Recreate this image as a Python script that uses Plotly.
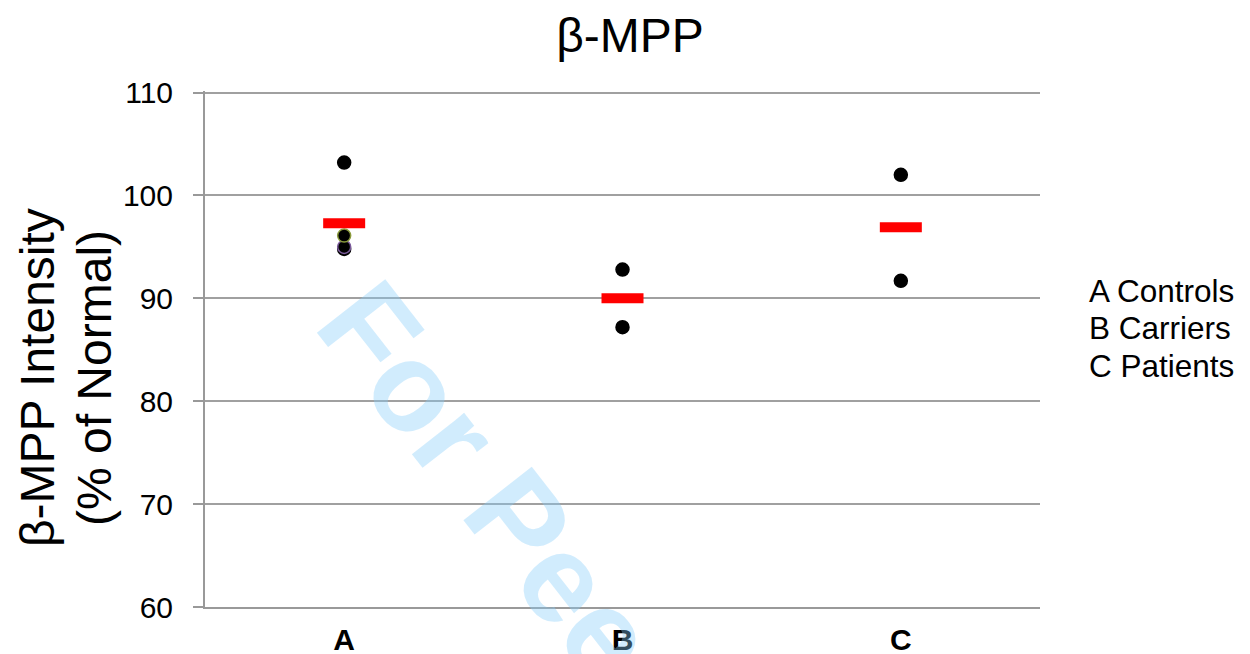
import plotly.graph_objects as go

categories = ["A", "B", "C"]
point_groups = ["A", "A", "A", "A", "B", "B", "C", "C"]
point_values = [103.2, 96.1, 95.0, 94.8, 92.8, 87.2, 102.0, 91.7]
point_outline = ["black", "#8a9a3c", "#7a5a9a", "black", "black", "black", "black", "black"]
mean_values = [97.3, 90.0, 96.9]
legend_labels = ["A Controls", "B Carriers", "C Patients"]
y_ticks = [60, 70, 80, 90, 100, 110]
title_text = "β-MPP"
y_title_lines = ["β-MPP Intensity", "(% of Normal)"]
watermark = "For Peer Review"

FONT = "Liberation Sans, Arial, sans-serif"

OFF = 8  # page body margin offset
W, H = 1242, 646
L, T, B = 205 - OFF, 83, 47
PW = 835
R = W - L - PW
PH = H - T - B
PB = OFF + H - B  # screen y of plot bottom


def px(sx):
    return (sx - 205) / PW


def py(sy):
    return (PB - sy) / PH


fig = go.Figure()
order = [0, 3, 2, 1, 4, 5, 6, 7]
fig.add_trace(go.Scatter(
    x=[point_groups[i] for i in order],
    y=[point_values[i] for i in order],
    mode="markers",
    marker=dict(color="black", size=13,
                line=dict(color=[point_outline[i] for i in order], width=1.5)),
    showlegend=False, hoverinfo="skip",
))
fig.add_trace(go.Scatter(
    x=categories, y=mean_values, mode="markers",
    marker=dict(symbol="line-ew", size=30, color="red",
                line=dict(color="red", width=10)),
    showlegend=False, hoverinfo="skip",
))

fig.update_layout(
    width=W, height=H,
    margin=dict(l=L, r=R, t=T, b=B, autoexpand=False),
    plot_bgcolor="white", paper_bgcolor="white",
    font=dict(family=FONT, color="black"),
    title=dict(text=title_text, x=(630 - OFF) / W, xref="container", xanchor="center",
               y=1 - (35 - OFF) / H, yref="container", yanchor="middle",
               font=dict(size=48, family=FONT, color="black")),
    xaxis=dict(type="category", categoryorder="array", categoryarray=categories,
               range=[-0.5, 2.5], showgrid=False, showline=True, automargin=False,
               linecolor="#999999", linewidth=2, ticks="", zeroline=False,
               tickfont=dict(size=30, family=FONT, color="black", weight="bold"),
               ticklabelstandoff=5),
    yaxis=dict(range=[60, 110.15], tickvals=y_ticks, showgrid=True, automargin=False,
               gridcolor="#a0a0a0", gridwidth=2, showline=True,
               linecolor="#999999", linewidth=2, ticks="outside", ticklen=10,
               tickcolor="#999999", tickwidth=2, zeroline=False,
               tickfont=dict(size=30, family=FONT, color="black"),
               ticklabelstandoff=14),
)

# y-axis title, two lines
for line, sx in zip(y_title_lines, [37, 94]):
    fig.add_annotation(text=line, xref="paper", yref="paper",
                       x=px(sx), y=py(378), xanchor="center", yanchor="middle",
                       textangle=-90, showarrow=False,
                       font=dict(size=48, family=FONT, color="black"))

# legend-like labels
for lab, yy in zip(legend_labels, [291, 328, 366]):
    fig.add_annotation(text=lab, xref="paper", yref="paper",
                       x=px(1087), y=py(yy),
                       xanchor="left", yanchor="middle", showarrow=False,
                       font=dict(size=31.5, family=FONT, color="black"))

# watermark
fig.add_annotation(text=watermark, xref="paper", yref="paper",
                   x=px(648), y=py(685),
                   xanchor="center", yanchor="middle", textangle=52,
                   showarrow=False,
                   font=dict(size=126, family=FONT, color="rgba(135,206,250,0.38)",
                             weight="bold"))

fig.write_html("out.html")
